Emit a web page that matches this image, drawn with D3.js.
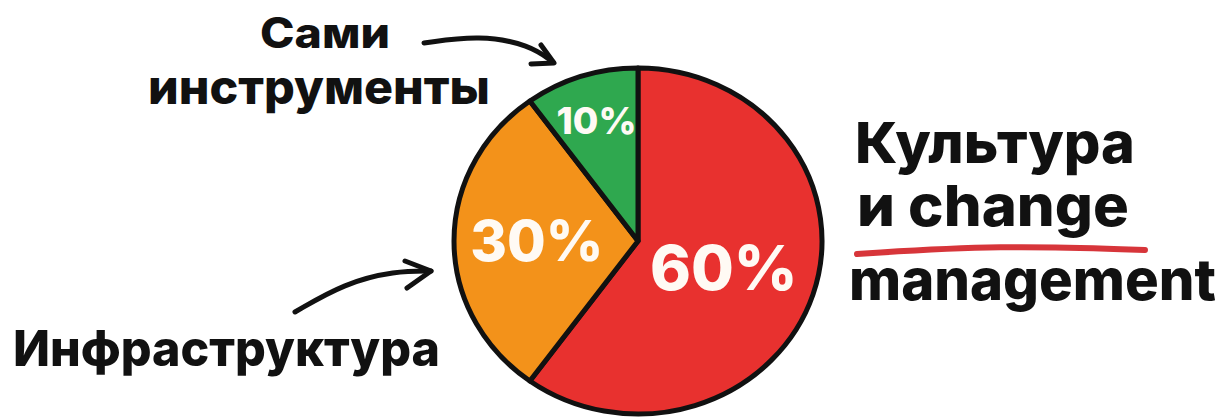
<!DOCTYPE html>
<html>
<head>
<meta charset="utf-8">
<script src="https://cdn.jsdelivr.net/npm/d3@7/dist/d3.min.js"></script>
<style>
  html, body { margin: 0; padding: 0; background: #ffffff; }
  svg { display: block; }
  text { font-family: Inter, "Open Sans", sans-serif; font-weight: 800; }
</style>
</head>
<body>
<svg id="chart" width="1228" height="420"></svg>
<script>
// ---- data ----
const categories = ["Культура и change management", "Инфраструктура", "Сами инструменты"];
const values = [60, 30, 10];
const valueLabels = ["60%", "30%", "10%"];
const colors = ["#e8312f", "#f3921a", "#2fa84f"];
const labelLinesRight = ["Культура", "и change", "management"];
const labelLinesTop = ["Сами", "инструменты"];
const labelLinesLeft = ["Инфраструктура"];

// ---- layout / style ----
const cx = 638, cy = 241, R = 184, ry = 173;
const labelRadius = [0.49, 0.55, 0.73];
const labelSize = [62, 56, 37];

const svg = d3.select("#chart");

const pie = d3.pie().sort(null).value(d => d)(values);
const arc = d3.arc().innerRadius(0).outerRadius(R);

const g = svg.append("g").attr("transform", `translate(${cx},${cy}) scale(1,${ry / R})`);

g.selectAll("path.slice")
  .data(pie)
  .join("path")
  .attr("class", "slice")
  .attr("d", arc)
  .attr("fill", (d, i) => colors[i])
  .attr("stroke", "#111")
  .attr("stroke-width", 5)
  .attr("stroke-linejoin", "round")
  .attr("vector-effect", "non-scaling-stroke");

// value labels
const lg = svg.append("g").attr("transform", `translate(${cx},${cy})`);
lg.selectAll("text.val")
  .data(pie)
  .join("text")
  .attr("class", "val")
  .attr("x", (d, i) => Math.sin((d.startAngle + d.endAngle) / 2) * R * labelRadius[i])
  .attr("y", (d, i) => -Math.cos((d.startAngle + d.endAngle) / 2) * ry * labelRadius[i])
  .attr("dy", "0.36em")
  .attr("text-anchor", "middle")
  .attr("fill", "#fffaf4")
  .attr("font-weight", 700)
  .attr("font-size", (d, i) => labelSize[i])
  .text((d, i) => valueLabels[i]);

function fitText(sel, widths) {
  sel.attr("textLength", (d, i) => widths[i]).attr("lengthAdjust", "spacingAndGlyphs");
}

// right label
const rightY = [163, 226, 300];
const rightX = [855, 857, 849];
const rightW = [280, 272, 367];
svg.append("g").selectAll("text")
  .data(labelLinesRight)
  .join("text")
  .attr("x", (d, i) => rightX[i])
  .attr("y", (d, i) => rightY[i])
  .attr("font-size", 57)
  .attr("fill", "#111")
  .text(d => d)
  .call(fitText, rightW);

// red underline
svg.append("path")
  .attr("d", d3.line().curve(d3.curveBasis)([[857, 254], [1000, 245], [1145, 250]]))
  .attr("fill", "none")
  .attr("stroke", "#d7353a")
  .attr("stroke-width", 6)
  .attr("stroke-linecap", "round");

// top-left label
const topY = [48, 104];
const topX = [260, 148];
const topW = [130, 342];
const topSize = [42, 47];
svg.append("g").selectAll("text")
  .data(labelLinesTop)
  .join("text")
  .attr("x", (d, i) => topX[i])
  .attr("y", (d, i) => topY[i])
  .attr("font-size", (d, i) => topSize[i])
  .attr("fill", "#111")
  .text(d => d)
  .call(fitText, topW);

// bottom-left label
svg.append("g").selectAll("text")
  .data(labelLinesLeft)
  .join("text")
  .attr("x", 13)
  .attr("y", 366)
  .attr("font-size", 50)
  .attr("fill", "#111")
  .text(d => d)
  .call(fitText, [427]);

// arrows
const arrowStyle = sel => sel.attr("fill", "none").attr("stroke", "#111")
  .attr("stroke-width", 5).attr("stroke-linecap", "round").attr("stroke-linejoin", "round");

svg.append("path")
  .attr("d", d3.line().curve(d3.curveBasis)([[424, 43], [480, 35], [530, 45], [553, 62]]))
  .call(arrowStyle);
svg.append("path")
  .attr("d", d3.line()([[541, 45], [554, 63], [531, 64]]))
  .call(arrowStyle);

svg.append("path")
  .attr("d", d3.line().curve(d3.curveBasis)([[295, 312], [345, 283], [395, 271], [431, 271]]))
  .call(arrowStyle);
svg.append("path")
  .attr("d", d3.line()([[405, 261], [431, 271], [407, 288]]))
  .call(arrowStyle);
</script>
</body>
</html>
